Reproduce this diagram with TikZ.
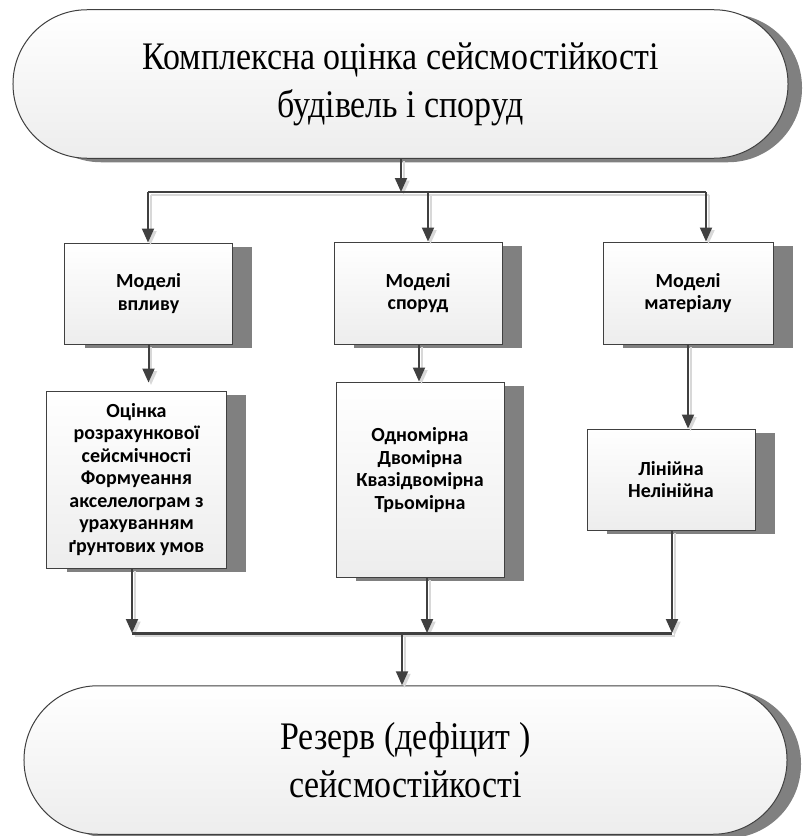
\documentclass[tikz,border=0pt]{standalone}
\usepackage{fontspec}
\setmainfont{Carlito}
\newfontfamily\titlefont[FakeStretch=0.87]{Liberation Serif}
\usetikzlibrary{arrows.meta,shadows}
\definecolor{ln}{HTML}{404040}
\definecolor{shd}{HTML}{808080}
\definecolor{lshd}{HTML}{D8D8D8}
\definecolor{grd}{HTML}{EDEDED}
\begin{document}
\begin{tikzpicture}[x=1bp,y=-1bp,
  grad/.style={path picture={\shade[top color=white, bottom color=grd]
      (path picture bounding box.south west) rectangle (path picture bounding box.north east);}},
  box/.style={draw=ln, line width=1bp, fill=white, grad,
    drop shadow={shadow xshift=20bp, shadow yshift=-4bp, fill=shd, draw=none, opacity=1},
    inner sep=0pt, align=center, font=\bfseries\fontsize{20bp}{22.5bp}\selectfont},
  term/.style={draw=ln, line width=1bp, rounded corners=74bp, fill=white, grad,
    drop shadow={shadow xshift=14bp, shadow yshift=-4bp, fill=shd, draw=none, opacity=1},
    minimum height=148.5bp, inner sep=0pt, align=center,
    font=\titlefont\fontsize{39bp}{48bp}\selectfont},
  con/.style={draw=ln, line width=2bp,
    preaction={draw=lshd, line width=2bp, transform canvas={shift={(2.5bp,-2.5bp)}}}},
  arr/.style={con, -{Triangle[width=12bp,length=14bp]}},
]
\useasboundingbox (0,0) rectangle (803,836);

\node[term, minimum width=775bp] (T) at (400.5,84) {Комплексна оцінка сейсмостійкості\\будівель і споруд};

\node[box, minimum width=167bp, minimum height=101bp] (b1) at (148.5,293.5) {Моделі\\впливу};
\node[box, minimum width=168bp, minimum height=102bp] (b2) at (418,293) {Моделі\\споруд};
\node[box, minimum width=170bp, minimum height=102bp] (b3) at (688,293) {Моделі\\матеріалу};

\node[box, minimum width=179bp, minimum height=177bp] (c1) at (136.5,479.5) {Оцінка\\розрахункової\\сейсмічності\\Формуеання\\акселелограм з\\урахуванням\\ґрунтових умов};
\node[box, minimum width=168bp, minimum height=195bp] (c2) at (420,479.5) {Одномірна\\Двомірна\\Квазідвомірна\\Трьомірна\\\mbox{}};
\node[box, minimum width=168bp, minimum height=101bp] (c3) at (671,479.5) {Лінійна\\Нелінійна};

\node[term, minimum width=763bp] (B) at (405.5,760) {Резерв (дефіцит )\\сейсмостійкості};

% upper distribution
\coordinate (j0) at (401,192);
\coordinate (jl) at (148,192);
\coordinate (j2) at (428,192);
\coordinate (jr) at (706,192);
\draw[arr] (T.south -| j0) -- (j0);
\draw[con] (jl) -- (jr);
\draw[arr] (jl) -- (jl |- b1.north);
\draw[arr] (j2) -- (j2 |- b2.north);
\draw[arr] (jr) -- (jr |- b3.north);

% middle links
\draw[arr, shorten >=8bp] (b1.south) -- (b1.south |- c1.north);
\coordinate (m2) at (419,344);
\draw[arr] (m2) -- (m2 |- c2.north);
\draw[arr] (b3.south) -- (b3.south |- c3.north);

% lower collection
\coordinate (k1) at (132,633);
\coordinate (k2) at (427,633);
\coordinate (k3) at (672,633);
\coordinate (k0) at (402,633);
\draw[arr] (k1 |- c1.south) -- (k1);
\draw[arr] (k2 |- c2.south) -- (k2);
\draw[arr] (k3 |- c3.south) -- (k3);
\draw[con, line width=3bp] (k1) -- (k3);
\draw[arr] (k0) -- (k0 |- B.north);
\end{tikzpicture}
\end{document}
